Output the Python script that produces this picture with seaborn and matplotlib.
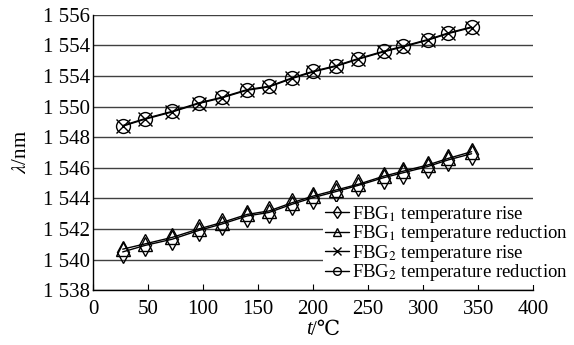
import matplotlib
matplotlib.use('Agg')
import matplotlib.pyplot as plt
import seaborn as sns
import pandas as pd

sns.set_theme(style='white')
plt.rcParams['font.family'] = ['Liberation Serif', 'DejaVu Serif', 'DejaVu Sans']
plt.rcParams['mathtext.fontset'] = 'stix'

# temperatures (deg C)
temps = [27, 47, 72, 96, 117, 140, 160, 181, 200, 221, 241, 264, 282, 304, 323, 344]

# wavelengths (nm)
fbg1_rise = [1540.50, 1540.92, 1541.33, 1541.90, 1542.32, 1542.85, 1543.08, 1543.62,
             1544.05, 1544.45, 1544.85, 1545.35, 1545.68, 1546.08, 1546.52, 1546.92]
fbg1_down = [1540.68, 1541.02, 1541.45, 1542.00, 1542.42, 1542.95, 1543.18, 1543.72,
             1544.15, 1544.55, 1544.92, 1545.45, 1545.78, 1546.18, 1546.62, 1547.05]
fbg2_rise = [1548.72, 1549.17, 1549.65, 1550.20, 1550.57, 1551.07, 1551.29, 1551.84,
             1552.27, 1552.64, 1553.10, 1553.58, 1553.91, 1554.34, 1554.78, 1555.17]
fbg2_down = [1548.76, 1549.21, 1549.69, 1550.24, 1550.61, 1551.11, 1551.33, 1551.88,
             1552.31, 1552.68, 1553.14, 1553.62, 1553.95, 1554.38, 1554.82, 1555.21]

y_ticks = [1538, 1540, 1542, 1544, 1546, 1548, 1550, 1552, 1554, 1556]
y_tick_labels = ['1 538', '1 540', '1 542', '1 544', '1 546', '1 548', '1 550', '1 554', '1 554', '1 556']
x_ticks = [0, 50, 100, 150, 200, 250, 300, 350, 400]

series = [
    ('FBG$_{\\mathrm{1}}$ temperature rise', fbg1_rise, 'd'),
    ('FBG$_{\\mathrm{1}}$ temperature reduction', fbg1_down, '^'),
    ('FBG$_{\\mathrm{2}}$ temperature rise', fbg2_rise, 'x'),
    ('FBG$_{\\mathrm{2}}$ temperature reduction', fbg2_down, 'o'),
]

fig = plt.figure(figsize=(5.74, 3.45), dpi=100)
ax = fig.add_axes([0.162, 0.159, 0.767, 0.798])

for label, vals, mk in series:
    df = pd.DataFrame({'t': temps, 'wl': vals})
    sns.lineplot(data=df, x='t', y='wl', ax=ax, color='black', linewidth=1.0,
                 marker=mk, markersize=11 if mk == 'd' else 10,
                 markerfacecolor='none', markeredgecolor='black', markeredgewidth=1.0,
                 label=label)

ax.set_xlim(0, 400)
ax.set_ylim(1538, 1556)
ax.set_xticks(x_ticks)
ax.set_yticks(y_ticks)
ax.set_yticklabels(y_tick_labels)
ax.tick_params(axis='x', direction='in', length=4, width=0.8, color='black',
               labelsize=15, pad=7, bottom=True)
ax.tick_params(axis='y', length=0, labelsize=15, pad=2)
for lab in ax.get_xticklabels() + ax.get_yticklabels():
    lab.set_color('black')

ax.grid(axis='y', color='#404040', linewidth=1.0)
ax.grid(axis='x', visible=False)
for side in ['top', 'right']:
    ax.spines[side].set_visible(False)
for side in ['left', 'bottom']:
    ax.spines[side].set_color('black')
    ax.spines[side].set_linewidth(1.0)

# x label: italic t followed by /℃ (℃ needs a font fallback, so no mathtext here)
ax.set_xlabel('')
xc = ax.get_position().x0 + ax.get_position().width * 0.5
fig.text(xc - 0.012, 1 - 330 / 345, 't', fontsize=15, style='italic',
         ha='left', va='center', color='black')
fig.text(xc - 0.012 + 0.009, 1 - 330 / 345, '/\u2103', fontsize=15,
         ha='left', va='center', color='black')
ax.set_ylabel('$\\lambda$/nm', fontsize=15, color='black', labelpad=9)

leg = ax.legend(loc='lower left', bbox_to_anchor=(323 / 574, 1 - 285 / 345),
                bbox_transform=fig.transFigure, fontsize=13.5, frameon=True,
                facecolor='white', edgecolor='none', framealpha=1, fancybox=False,
                labelspacing=-0.08, handlelength=1.3, handletextpad=0.15,
                borderpad=0.1, borderaxespad=0, markerscale=0.55)
for t in leg.get_texts():
    t.set_color('black')

fig.savefig('out.png', dpi=100)
